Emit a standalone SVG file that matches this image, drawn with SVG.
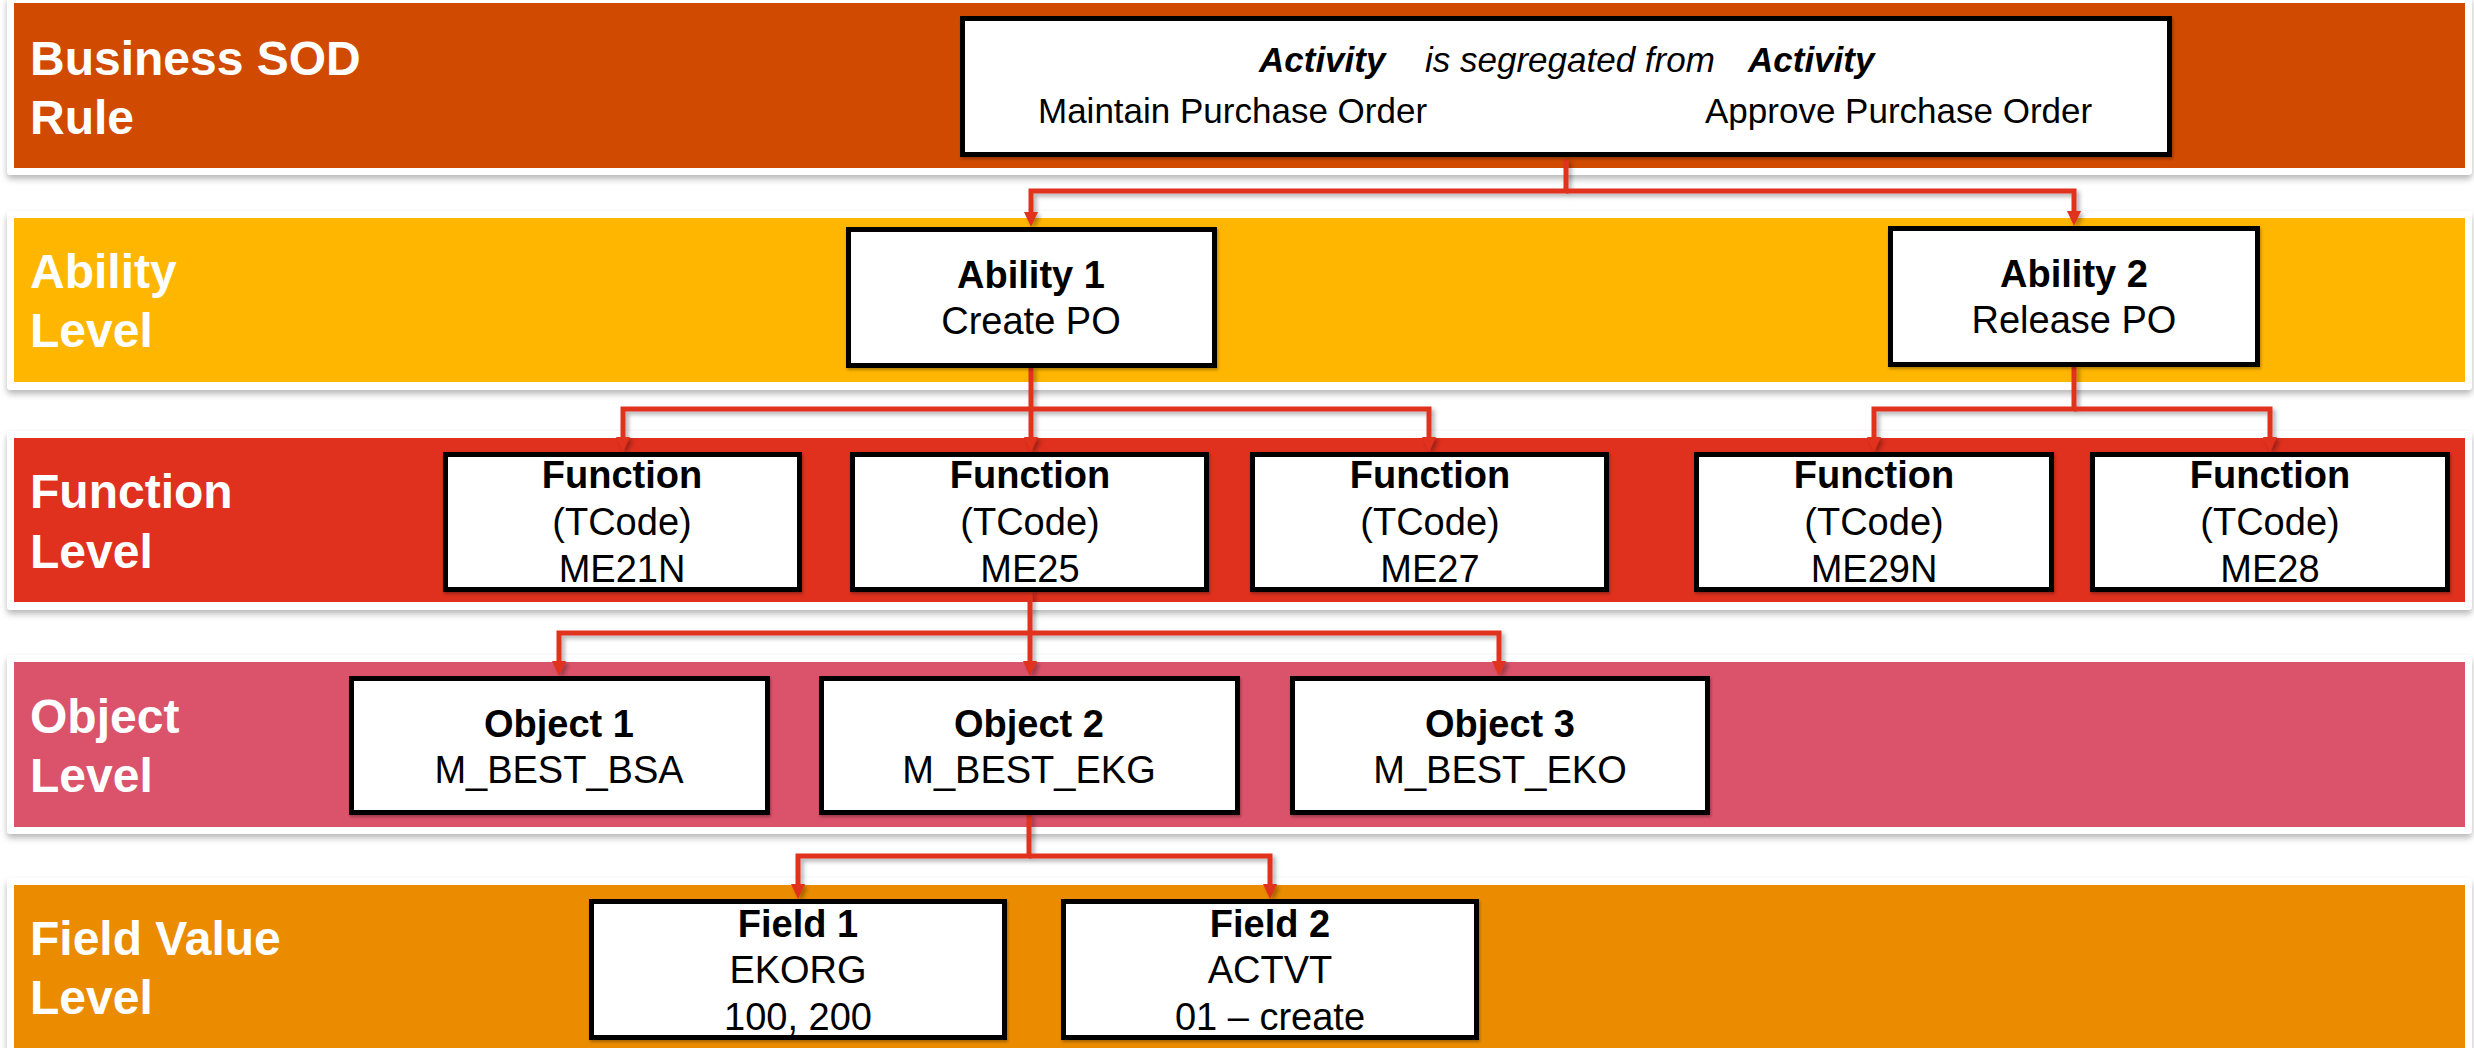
<svg xmlns="http://www.w3.org/2000/svg" width="2474" height="1048" viewBox="0 0 2474 1048">
<defs>
  <filter id="frameShadow" x="-2%" y="-10%" width="104%" height="130%">
    <feDropShadow dx="0" dy="4" stdDeviation="3" flood-color="#000" flood-opacity="0.28"/>
  </filter>
  <filter id="boxShadow" x="-5%" y="-5%" width="110%" height="115%">
    <feDropShadow dx="1" dy="2" stdDeviation="1.5" flood-color="#000" flood-opacity="0.3"/>
  </filter>
  <filter id="lineShadow" x="-5%" y="-20%" width="110%" height="140%">
    <feDropShadow dx="3" dy="3" stdDeviation="2" flood-color="#000" flood-opacity="0.3"/>
  </filter>
  <marker id="arrow" viewBox="0 -7 15 14" refX="3" refY="0" markerWidth="15" markerHeight="14" markerUnits="userSpaceOnUse" orient="auto">
    <path d="M0,-7 L15,0 L0,7 z" fill="#E0301E"/>
  </marker>
</defs>
<style>
  .frame { fill: #ffffff; filter: url(#frameShadow); }
  .lbl { font-family: "Liberation Sans", Arial, sans-serif; font-weight: bold; font-size: 48px; fill: #ffffff; }
  .box { fill: #ffffff; stroke: #000000; stroke-width: 5; filter: url(#boxShadow); }
  .t { font-family: "Liberation Sans", Arial, sans-serif; font-size: 38px; fill: #000000; text-anchor: middle; }
  .tb { font-weight: bold; }
  .r { font-family: "Liberation Sans", Arial, sans-serif; font-size: 35px; fill: #000000; }
  .conn { fill: none; stroke: #E0301E; stroke-width: 5; stroke-linejoin: miter; stroke-linecap: butt; }
</style>

<!-- Bands -->
<g id="band-sod">
  <rect class="frame" x="7" y="-4" width="2465" height="179" rx="4"/>
  <rect x="14" y="3" width="2451" height="165" fill="#D04A02"/>
  <text class="lbl" x="30" y="75">Business SOD</text>
  <text class="lbl" x="30" y="134">Rule</text>
</g>
<g id="band-ability">
  <rect class="frame" x="7" y="211" width="2465" height="179" rx="4"/>
  <rect x="14" y="218" width="2451" height="164" fill="#FFB600"/>
  <text class="lbl" x="30" y="288">Ability</text>
  <text class="lbl" x="30" y="347">Level</text>
</g>
<g id="band-function">
  <rect class="frame" x="7" y="431" width="2465" height="179" rx="4"/>
  <rect x="14" y="438" width="2451" height="164" fill="#E0301E"/>
  <text class="lbl" x="30" y="508">Function</text>
  <text class="lbl" x="30" y="568">Level</text>
</g>
<g id="band-object">
  <rect class="frame" x="7" y="655" width="2465" height="179" rx="4"/>
  <rect x="14" y="662" width="2451" height="165" fill="#DB536A"/>
  <text class="lbl" x="30" y="733">Object</text>
  <text class="lbl" x="30" y="792">Level</text>
</g>
<g id="band-field">
  <rect class="frame" x="7" y="878" width="2465" height="190" rx="4"/>
  <rect x="14" y="885" width="2451" height="170" fill="#EB8C00"/>
  <text class="lbl" x="30" y="955">Field Value</text>
  <text class="lbl" x="30" y="1014">Level</text>
</g>

<!-- Connectors -->
<g id="connectors" filter="url(#lineShadow)">
  <path class="conn" d="M1566,159 V191 H1031 V215" marker-end="url(#arrow)"/>
  <path class="conn" d="M1566,191 H2074 V214" marker-end="url(#arrow)"/>

  <path class="conn" d="M1031,366 V440" marker-end="url(#arrow)"/>
  <path class="conn" d="M1031,409 H623 V440" marker-end="url(#arrow)"/>
  <path class="conn" d="M1031,409 H1429 V440" marker-end="url(#arrow)"/>

  <path class="conn" d="M2074,365 V409 H1874 V440" marker-end="url(#arrow)"/>
  <path class="conn" d="M2074,409 H2270 V440" marker-end="url(#arrow)"/>

  <path class="conn" d="M1030,590 V664" marker-end="url(#arrow)"/>
  <path class="conn" d="M1030,633 H559 V664" marker-end="url(#arrow)"/>
  <path class="conn" d="M1030,633 H1499 V664" marker-end="url(#arrow)"/>

  <path class="conn" d="M1029,813 V856 H798 V887" marker-end="url(#arrow)"/>
  <path class="conn" d="M1029,856 H1270 V887" marker-end="url(#arrow)"/>
</g>

<!-- Nodes -->
<g id="sod-rule">
  <rect class="box" x="962.5" y="18.5" width="1207" height="136"/>
  <text class="r" x="1259" y="72" font-weight="bold" font-style="italic">Activity</text>
  <text class="r" x="1425" y="72" font-style="italic">is segregated from</text>
  <text class="r" x="1748" y="72" font-weight="bold" font-style="italic">Activity</text>
  <text class="r" x="1038" y="123">Maintain Purchase Order</text>
  <text class="r" x="1705" y="123">Approve Purchase Order</text>
</g>

<g id="ability-1">
  <rect class="box" x="848.5" y="229.5" width="366" height="136"/>
  <text class="t tb" x="1031" y="288">Ability 1</text>
  <text class="t" x="1031" y="334">Create PO</text>
</g>
<g id="ability-2">
  <rect class="box" x="1890.5" y="228.5" width="367" height="136"/>
  <text class="t tb" x="2074" y="287">Ability 2</text>
  <text class="t" x="2074" y="333">Release PO</text>
</g>

<g id="function-me21n">
  <rect class="box" x="445.5" y="454.5" width="354" height="135"/>
  <text class="t tb" x="622" y="488">Function</text>
  <text class="t" x="622" y="535">(TCode)</text>
  <text class="t" x="622" y="582">ME21N</text>
</g>
<g id="function-me25">
  <rect class="box" x="852.5" y="454.5" width="354" height="135"/>
  <text class="t tb" x="1030" y="488">Function</text>
  <text class="t" x="1030" y="535">(TCode)</text>
  <text class="t" x="1030" y="582">ME25</text>
</g>
<g id="function-me27">
  <rect class="box" x="1252.5" y="454.5" width="354" height="135"/>
  <text class="t tb" x="1430" y="488">Function</text>
  <text class="t" x="1430" y="535">(TCode)</text>
  <text class="t" x="1430" y="582">ME27</text>
</g>
<g id="function-me29n">
  <rect class="box" x="1696.5" y="454.5" width="355" height="135"/>
  <text class="t tb" x="1874" y="488">Function</text>
  <text class="t" x="1874" y="535">(TCode)</text>
  <text class="t" x="1874" y="582">ME29N</text>
</g>
<g id="function-me28">
  <rect class="box" x="2092.5" y="454.5" width="355" height="135"/>
  <text class="t tb" x="2270" y="488">Function</text>
  <text class="t" x="2270" y="535">(TCode)</text>
  <text class="t" x="2270" y="582">ME28</text>
</g>

<g id="object-1">
  <rect class="box" x="351.5" y="678.5" width="416" height="134"/>
  <text class="t tb" x="559" y="737">Object 1</text>
  <text class="t" x="559" y="783">M_BEST_BSA</text>
</g>
<g id="object-2">
  <rect class="box" x="821.5" y="678.5" width="416" height="134"/>
  <text class="t tb" x="1029" y="737">Object 2</text>
  <text class="t" x="1029" y="783">M_BEST_EKG</text>
</g>
<g id="object-3">
  <rect class="box" x="1292.5" y="678.5" width="415" height="134"/>
  <text class="t tb" x="1500" y="737">Object 3</text>
  <text class="t" x="1500" y="783">M_BEST_EKO</text>
</g>

<g id="field-1">
  <rect class="box" x="591.5" y="901.5" width="413" height="136"/>
  <text class="t tb" x="798" y="937">Field 1</text>
  <text class="t" x="798" y="983">EKORG</text>
  <text class="t" x="798" y="1030">100, 200</text>
</g>
<g id="field-2">
  <rect class="box" x="1063.5" y="901.5" width="413" height="136"/>
  <text class="t tb" x="1270" y="937">Field 2</text>
  <text class="t" x="1270" y="983">ACTVT</text>
  <text class="t" x="1270" y="1030">01 – create</text>
</g>
</svg>
